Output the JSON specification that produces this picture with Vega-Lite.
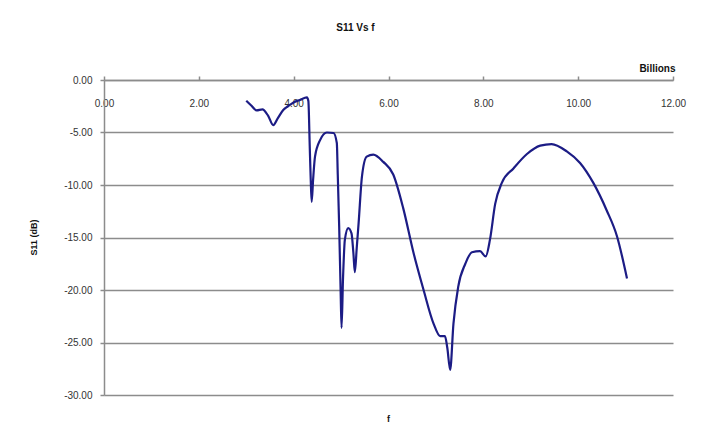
{
  "$schema": "https://vega.github.io/schema/vega-lite/v6.json",
  "width": 569,
  "height": 315,
  "autosize": "none",
  "padding": {"left": 104, "top": 80, "right": 30, "bottom": 53},
  "background": "white",
  "title": {
    "text": "S11 Vs f",
    "font": "Liberation Sans",
    "fontSize": 10,
    "fontWeight": "bold",
    "color": "#111111",
    "anchor": "middle",
    "dx": -33,
    "offset": 30
  },
  "config": {
    "view": {"stroke": null},
    "axis": {
      "labelFont": "Liberation Sans",
      "labelFontSize": 10,
      "labelColor": "#333333",
      "titleFont": "Liberation Sans",
      "titleFontSize": 9,
      "titleFontWeight": "bold",
      "titleColor": "#111111",
      "domainColor": "#8c8c8c",
      "domainWidth": 1.5,
      "tickColor": "#8c8c8c",
      "tickWidth": 1.5,
      "labelFlush": false,
      "labelOverlap": false
    }
  },
  "data": {
    "values": [
      {"f": 3.00, "s11": -1.97},
      {"f": 3.10, "s11": -2.4},
      {"f": 3.22, "s11": -2.9},
      {"f": 3.34, "s11": -2.8},
      {"f": 3.46, "s11": -3.4},
      {"f": 3.57, "s11": -4.3},
      {"f": 3.67, "s11": -3.6},
      {"f": 3.78, "s11": -2.86},
      {"f": 3.88, "s11": -2.5},
      {"f": 3.99, "s11": -2.16},
      {"f": 4.13, "s11": -1.9},
      {"f": 4.28, "s11": -1.65},
      {"f": 4.31, "s11": -2.0},
      {"f": 4.34, "s11": -6.5},
      {"f": 4.36, "s11": -9.5},
      {"f": 4.38, "s11": -11.6},
      {"f": 4.41, "s11": -9.5},
      {"f": 4.45, "s11": -7.3},
      {"f": 4.56, "s11": -5.7},
      {"f": 4.70, "s11": -5.0},
      {"f": 4.84, "s11": -5.05},
      {"f": 4.91, "s11": -6.0},
      {"f": 4.93, "s11": -9.0},
      {"f": 4.96, "s11": -14.0},
      {"f": 4.99, "s11": -20.0},
      {"f": 5.01, "s11": -23.6},
      {"f": 5.04, "s11": -19.0},
      {"f": 5.08, "s11": -15.2},
      {"f": 5.15, "s11": -14.1},
      {"f": 5.22, "s11": -14.6},
      {"f": 5.26, "s11": -16.5},
      {"f": 5.29, "s11": -18.3},
      {"f": 5.33, "s11": -16.0},
      {"f": 5.37, "s11": -13.6},
      {"f": 5.44, "s11": -9.2},
      {"f": 5.54, "s11": -7.3},
      {"f": 5.68, "s11": -7.1},
      {"f": 5.89, "s11": -7.8},
      {"f": 6.10, "s11": -9.0},
      {"f": 6.31, "s11": -12.2},
      {"f": 6.53, "s11": -16.5},
      {"f": 6.74, "s11": -20.0},
      {"f": 6.95, "s11": -23.2},
      {"f": 7.09, "s11": -24.4},
      {"f": 7.19, "s11": -24.4},
      {"f": 7.24, "s11": -25.5},
      {"f": 7.30, "s11": -27.6},
      {"f": 7.37, "s11": -23.2},
      {"f": 7.47, "s11": -19.7},
      {"f": 7.62, "s11": -17.5},
      {"f": 7.76, "s11": -16.4},
      {"f": 7.93, "s11": -16.3},
      {"f": 8.05, "s11": -16.8},
      {"f": 8.14, "s11": -15.2},
      {"f": 8.25, "s11": -11.8},
      {"f": 8.39, "s11": -9.8},
      {"f": 8.64, "s11": -8.4},
      {"f": 8.92, "s11": -7.05},
      {"f": 9.20, "s11": -6.25},
      {"f": 9.44, "s11": -6.1},
      {"f": 9.76, "s11": -6.8},
      {"f": 10.04, "s11": -7.9},
      {"f": 10.32, "s11": -9.8},
      {"f": 10.60, "s11": -12.4},
      {"f": 10.82, "s11": -14.9},
      {"f": 11.03, "s11": -18.9}
    ]
  },
  "resolve": {"axis": {"x": "independent"}},
  "layer": [
    {
      "mark": {"type": "line", "color": "#1c1c85", "strokeWidth": 2.2, "interpolate": "monotone"},
      "encoding": {
        "x": {
          "field": "f",
          "type": "quantitative",
          "scale": {"domain": [0, 12], "nice": false},
          "axis": {
            "orient": "top",
            "values": [0, 2, 4, 6, 8, 10, 12],
            "labelExpr": "format(datum.value, '.2f')",
            "grid": false,
            "tickSize": 4,
            "labelBaseline": "middle",
            "labelPadding": -27,
            "title": "Billions",
            "titleFontSize": 10,
            "titleAlign": "right",
            "titleAnchor": null,
            "titleX": 571,
            "titleY": -12,
            "titleBaseline": "middle"
          }
        },
        "y": {
          "field": "s11",
          "type": "quantitative",
          "scale": {"domain": [-30, 0], "nice": false},
          "axis": {
            "values": [0, -5, -10, -15, -20, -25, -30],
            "labelExpr": "(datum.value < 0 ? '-' : '') + format(abs(datum.value), '.2f')",
            "grid": true,
            "gridColor": "#8c8c8c",
            "gridWidth": 1.5,
            "tickSize": 4,
            "labelPadding": 8,
            "title": "S11 (dB)",
            "titleAngle": -90,
            "titleX": -71,
            "titleY": 157,
            "titleAlign": "center",
            "titleBaseline": "middle"
          }
        }
      }
    },
    {
      "mark": {"type": "line", "opacity": 0},
      "encoding": {
        "x": {
          "field": "f",
          "type": "quantitative",
          "axis": {
            "orient": "bottom",
            "domain": false,
            "ticks": false,
            "labels": false,
            "grid": false,
            "title": "f",
            "titleX": 284,
            "titleY": 23,
            "titleAlign": "center",
            "titleBaseline": "middle"
          }
        },
        "y": {"field": "s11", "type": "quantitative"}
      }
    }
  ]
}
